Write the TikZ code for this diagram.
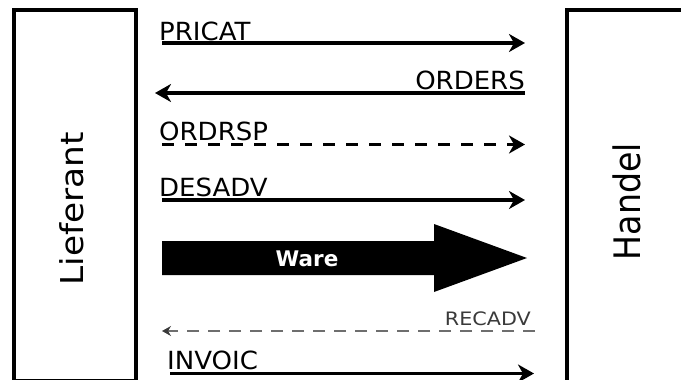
\documentclass[tikz,border=0pt]{standalone}
\usepackage{fontspec}
\setmainfont{DejaVu Sans}
\usetikzlibrary{arrows.meta}
\definecolor{recline}{HTML}{6E6E6E}
\definecolor{rectext}{HTML}{3A3A3A}

\begin{document}
\begin{tikzpicture}[x=1pt,y=-1pt,
  party/.style={draw, line width=4pt, inner sep=0pt},
  partylabel/.style={rotate=90, anchor=base, inner sep=0pt},
  msg/.style={line width=3.4pt, -{Stealth[length=16pt,width=18pt,inset=5pt]}},
  msgdash/.style={msg, dash pattern=on 12pt off 11pt},
  msglabel/.style={inner sep=0pt, font=\fontsize{25}{30}\selectfont},
  reclabel/.style={inner sep=0pt, text=rectext, font=\fontsize{18.5}{22}\selectfont},
  recmsg/.style={line width=2.2pt, draw=recline, dash pattern=on 12pt off 9pt,
    -{Stealth[length=9pt,width=10pt,inset=3pt,color=rectext]}},
  goods/.style={fill=black},
  goodslabel/.style={inner sep=0pt, text=white, font=\fontsize{21.5}{26}\bfseries}
]
\useasboundingbox (0,0) rectangle (681,380);
\clip (0,0) rectangle (681,380);

% the two trading partners
\node[party, minimum width=122pt, minimum height=371pt] (lief) at (75,195.5) {};
\node[party, minimum width=153pt, minimum height=410pt] (handel) at (643.5,215) {};
\node[partylabel, font=\fontsize{31.5}{37}\selectfont] (lieflabel) at (83,208.5)
  {\scalebox{1.09}[1]{Lieferant}};
\node[partylabel, font=\fontsize{36.5}{44}\selectfont] (handellabel) at (640,201.5)
  {\scalebox{0.91}[1]{Handel}};

% message end points
\coordinate (pricatS) at (162,43);    \coordinate (pricatE) at (525,43);
\coordinate (ordersS) at (525,93);    \coordinate (ordersE) at (155,93);
\coordinate (ordrspS) at (162,144.5); \coordinate (ordrspE) at (525,144.5);
\coordinate (desadvS) at (162,200);   \coordinate (desadvE) at (525,200);
\coordinate (recadvS) at (535,331);   \coordinate (recadvE) at (162,331);
\coordinate (invoicS) at (170,373.5); \coordinate (invoicE) at (534,373.5);

% messages
\draw[msg] (pricatS) -- (pricatE);
\draw[msg] (ordersS) -- (ordersE);
\draw[msgdash] (ordrspS) -- (ordrspE);
\draw[msg] (desadvS) -- (desadvE);
\draw[recmsg] (recadvS) -- (recadvE);
\draw[msg] (invoicS) -- (invoicE);

\node[msglabel, anchor=base west] (pricat) at (159,40) {\scalebox{1.04}[1]{PRICAT}};
\node[msglabel, anchor=base east] (orders) at (525,89) {\scalebox{1.04}[1]{ORDERS}};
\node[msglabel, anchor=base west] (ordrsp) at (159,140) {\scalebox{1.04}[1]{ORDRSP}};
\node[msglabel, anchor=base west] (desadv) at (159,196) {\scalebox{1.04}[1]{DESADV}};
\node[reclabel, anchor=base east] (recadv) at (531,325) {\scalebox{1.12}[1]{RECADV}};
\node[msglabel, anchor=base west] (invoic) at (167,369) {\scalebox{1.04}[1]{INVOIC}};

% flow of goods
\fill[goods] (162,241) -- (434,241) -- (434,224) -- (527,258)
  -- (434,292) -- (434,275) -- (162,275) -- cycle;
\node[goodslabel, anchor=base] (ware) at (307,266) {Ware};
\end{tikzpicture}
\end{document}
